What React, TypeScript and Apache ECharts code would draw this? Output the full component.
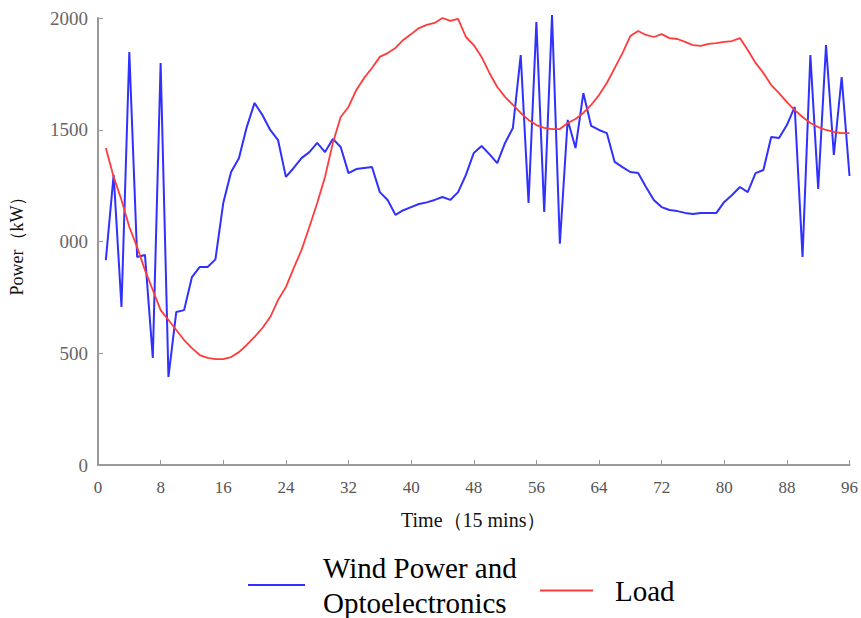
import React, { useEffect, useRef } from "react";
import * as echarts from "echarts";

const timeSteps: number[] = Array.from({ length: 96 }, (_, i) => i + 1);

const windPv: number[] = [
  917, 1298, 707, 1848, 931, 940, 479, 1799, 394, 685,
  693, 841, 886, 886, 920, 1172, 1311, 1373, 1512, 1620,
  1566, 1499, 1454, 1289, 1329, 1373, 1400, 1441, 1400, 1459,
  1423, 1306, 1324, 1329, 1333, 1221, 1186, 1119, 1140, 1154,
  1168, 1175, 1186, 1199, 1186, 1221, 1298, 1396, 1427, 1391,
  1351, 1441, 1508, 1834, 1172, 1982, 1132, 2013, 990, 1544,
  1418, 1664, 1517, 1499, 1485, 1356, 1333, 1311, 1306, 1244,
  1186, 1154, 1141, 1136, 1128, 1123, 1128, 1128, 1128, 1177,
  1208, 1244, 1221, 1306, 1320, 1468, 1463, 1521, 1602, 931,
  1834, 1235, 1879, 1387, 1736, 1293,
];

const load: number[] = [
  1418, 1289, 1186, 1065, 975, 872, 783, 693, 649, 604,
  559, 523, 492, 479, 474, 474, 483, 505, 537, 573,
  613, 662, 738, 796, 881, 962, 1065, 1172, 1289, 1441,
  1557, 1602, 1678, 1732, 1776, 1826, 1843, 1866, 1902, 1928,
  1955, 1969, 1978, 2000, 1987, 1996, 1915, 1879, 1826, 1754,
  1691, 1647, 1611, 1575, 1544, 1521, 1508, 1503, 1503, 1530,
  1548, 1575, 1611, 1655, 1709, 1776, 1843, 1919, 1942, 1924,
  1915, 1928, 1910, 1906, 1893, 1879, 1875, 1884, 1888, 1893,
  1897, 1910, 1857, 1799, 1754, 1700, 1664, 1624, 1588, 1557,
  1530, 1512, 1499, 1490, 1485, 1485,
];

const seriesNames: string[] = ["Wind Power and\nOptoelectronics", "Load"];
const yTickLabels: Record<number, string> = { 0: "0", 500: "500", 1000: "000", 1500: "1500", 2000: "2000" };
const xAxisName = "Time（15 mins）";
const yAxisName = "Power（kW）";

const FONT = "'Liberation Serif', 'Times New Roman', serif";

export default function App() {
  const ref = useRef<HTMLDivElement>(null);
  useEffect(() => {
    if (!ref.current) return;
    const chart = echarts.init(ref.current, undefined, { renderer: "svg" });
    chart.setOption({
      animation: false,
      backgroundColor: "#ffffff",
      textStyle: { fontFamily: FONT },
      grid: { left: 97, right: 11, top: 18, bottom: 153, containLabel: false },
      xAxis: {
        type: "value",
        min: 0,
        max: 96,
        interval: 8,
        name: xAxisName,
        nameLocation: "middle",
        nameGap: 45,
        nameTextStyle: { fontFamily: FONT, fontSize: 20, color: "#111" },
        axisLine: { show: true, lineStyle: { color: "#999", width: 2 } },
        axisTick: { show: true, inside: true, length: 5, lineStyle: { color: "#999", width: 1 } },
        axisLabel: { fontFamily: FONT, fontSize: 17, color: "#555", margin: 14 },
        splitLine: { show: false },
      },
      yAxis: {
        type: "value",
        min: 0,
        max: 2000,
        interval: 500,
        name: yAxisName,
        nameLocation: "middle",
        nameRotate: 90,
        nameGap: 72,
        nameTextStyle: { fontFamily: FONT, fontSize: 18, color: "#111" },
        axisLine: { show: true, lineStyle: { color: "#999", width: 2 } },
        axisTick: { show: true, inside: true, length: 5, lineStyle: { color: "#999", width: 1 } },
        axisLabel: {
          fontFamily: FONT,
          fontSize: 19,
          color: "#666",
          margin: 10,
          formatter: (v: number) => (yTickLabels[v] !== undefined ? yTickLabels[v] : String(v)),
        },
        splitLine: { show: false },
      },
      legend: [
        {
          data: [seriesNames[0]],
          left: 243,
          top: 545,
          icon: "rect",
          itemWidth: 57,
          itemHeight: 2,
          textStyle: { fontFamily: FONT, fontSize: 29, lineHeight: 35, color: "#000", padding: [0, 0, 0, 13] },
        },
        {
          data: [seriesNames[1]],
          left: 535,
          top: 568,
          icon: "rect",
          itemWidth: 53,
          itemHeight: 2,
          textStyle: { fontFamily: FONT, fontSize: 29, lineHeight: 35, color: "#000", padding: [0, 0, 0, 17] },
        },
      ],
      series: [
        {
          name: seriesNames[0],
          type: "line",
          data: timeSteps.map((t, i) => [t, windPv[i]]),
          showSymbol: false,
          symbol: "none",
          clip: false,
          color: "#3030ff",
          lineStyle: { color: "#3030ff", width: 2 },
        },
        {
          name: seriesNames[1],
          type: "line",
          data: timeSteps.map((t, i) => [t, load[i]]),
          showSymbol: false,
          symbol: "none",
          clip: false,
          color: "#ff3b3b",
          lineStyle: { color: "#ff3b3b", width: 1.8 },
        },
      ],
    });
    return () => chart.dispose();
  }, []);
  return (
    <div
      ref={ref}
      style={{ position: "fixed", left: 0, top: 0, width: 861, height: 618, background: "#fff" }}
    />
  );
}
